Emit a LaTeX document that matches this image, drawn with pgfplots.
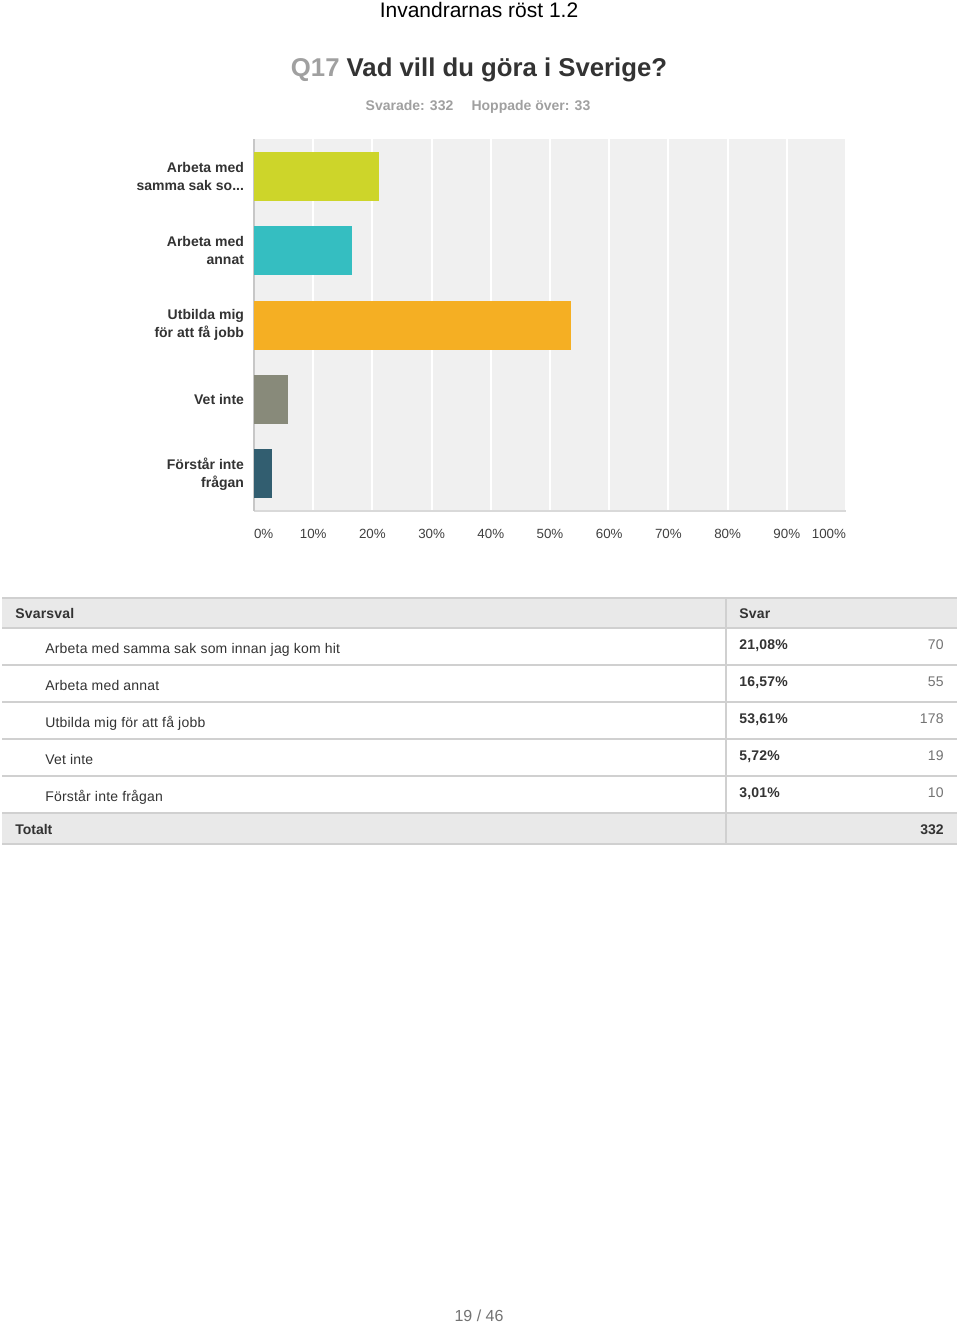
\documentclass[border=0pt]{standalone}
\usepackage{fontspec}
\setmainfont{Liberation Sans}
\newfontfamily\spacedfont[LetterSpace=1.5]{Liberation Sans}
\usepackage{pgfplots}
\pgfplotsset{compat=1.18}
\definecolor{c1}{HTML}{CDD52A}
\definecolor{c2}{HTML}{35BEC1}
\definecolor{c3}{HTML}{F5AF23}
\definecolor{c4}{HTML}{888A7A}
\definecolor{c5}{HTML}{325E70}
\definecolor{bgc}{HTML}{F0F0F0}
\definecolor{txt}{HTML}{333333}
\definecolor{lgray}{HTML}{A0A0A0}
\definecolor{hdr}{HTML}{E9E9E9}
\definecolor{rule}{HTML}{D0D0D0}
\newcommand\fs[2]{\fontsize{#1}{#2}\selectfont}
\newcommand\threedots{.{}.{}.}
\begin{document}
\begin{tikzpicture}
\begin{scope}[x=0.75pt,y=-0.75pt]
\useasboundingbox[fill=white] (0,0) rectangle (960,1323);
\coordinate (ao) at (254,511);
% titles
\node[anchor=base,inner sep=0,text=black] at (479,18) {\fs{15.75}{18}Invandrarnas röst 1.2};
\node[anchor=base,inner sep=0] at (479,77) {\fs{19.3}{24}\bfseries\textcolor{lgray}{Q17} \textcolor{txt}{Vad vill du göra i Sverige?}};
\node[anchor=base,inner sep=0,text=lgray] at (478,111) {\fs{10.5}{13}\bfseries Svarade: 332\hspace{1.3em}Hoppade över: 33};
% table
\fill[hdr] (2,598) rectangle (957,628);
\fill[hdr] (2,813) rectangle (957,844);
\foreach \yy in {598,628,665,702,739,776,813,844}{
  \draw[rule,line width=1.5] (2,\yy) -- (957,\yy);
}
\draw[rule,line width=1.5] (726,598) -- (726,844);
\node[anchor=base west,inner sep=0,text=txt] at (15,618) {\fs{10.5}{13}\spacedfont\bfseries Svarsval};
\node[anchor=base west,inner sep=0,text=txt] at (739,618) {\fs{10.5}{13}\spacedfont\bfseries Svar};
\foreach \i/\d/\p/\n in {0/{Arbeta med samma sak som innan jag kom hit}/{21,08\%}/70,
                          1/{Arbeta med annat}/{16,57\%}/55,
                          2/{Utbilda mig för att få jobb}/{53,61\%}/178,
                          3/{Vet inte}/{5,72\%}/19,
                          4/{Förstår inte frågan}/{3,01\%}/10}{
  \pgfmathsetmacro\yd{653+37*\i}
  \pgfmathsetmacro\yp{649+37*\i}
  \node[anchor=base west,inner sep=0,text=txt] at (45,\yd) {\fs{10.5}{13}\spacedfont\d};
  \node[anchor=base west,inner sep=0,text=txt] at (739,\yp) {\fs{10.5}{13}\spacedfont\bfseries \p};
  \node[anchor=base east,inner sep=0,text=black!55] at (944,\yp) {\fs{10.5}{13}\spacedfont\n};
}
\node[anchor=base west,inner sep=0,text=txt] at (15,834) {\fs{10.5}{13}\bfseries Totalt};
\node[anchor=base east,inner sep=0,text=txt] at (944,834) {\fs{10.5}{13}\bfseries 332};
% page number
\node[anchor=base,inner sep=0,text=black!55] at (479,1321) {\fs{12}{14}19 / 46};
\end{scope}
\begin{axis}[
  at={(ao)}, anchor=south west, scale only axis,
  width=444pt, height=279pt,
  xmin=0, xmax=100, ymin=-0.5, ymax=4.5, y dir=reverse,
  xbar, bar width=36.75pt, bar shift=0pt,
  axis background/.style={fill=bgc},
  axis x line*=bottom, axis y line*=left,
  x axis line style={-, draw=black!15, line width=1.5pt},
  y axis line style={-, draw=black!22, line width=1.5pt},
  xmajorgrids, major grid style={white, line width=1.5pt},
  major tick length=0pt,
  xtick={0,10,...,100},
  xticklabels={\makebox[0pt][l]{0\%},10\%,20\%,30\%,40\%,50\%,60\%,70\%,80\%,90\%,\makebox[0pt][r]{100\%}},
  xticklabel style={font=\fs{10}{12}, text=black!75, yshift=-10pt},
  ytick={0,1,2,3,4},
  yticklabels={{Arbeta med\\samma sak so\threedots},{Arbeta med\\annat},{Utbilda mig\\för att få jobb},{Vet inte},{Förstår inte\\frågan}},
  yticklabel style={align=right, font=\fs{10.5}{13.6}\bfseries, text=txt, xshift=-4pt},
]
\addplot[fill=c1, draw=none] coordinates {(21.08,0)};
\addplot[fill=c2, draw=none] coordinates {(16.57,1)};
\addplot[fill=c3, draw=none] coordinates {(53.61,2)};
\addplot[fill=c4, draw=none] coordinates {(5.72,3)};
\addplot[fill=c5, draw=none] coordinates {(3.01,4)};
\end{axis}
\end{tikzpicture}
\end{document}
